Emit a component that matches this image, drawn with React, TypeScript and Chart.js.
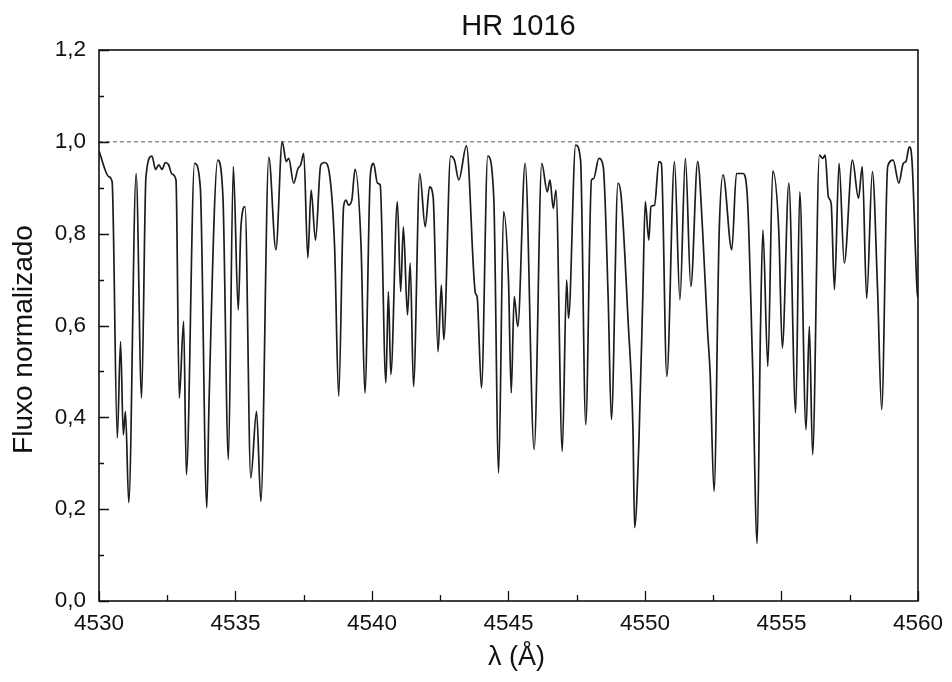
import React, { useEffect, useRef } from "react";
import { Chart, registerables } from "chart.js";

Chart.register(...registerables);

// Wavelength (Å) of traced spectrum points
const wavelengths = [
  4530.00, 4530.36, 4530.48, 4530.67, 4530.79, 4530.89, 4530.97, 4531.09, 4531.36, 4531.56,
  4531.72, 4531.94, 4532.07, 4532.19, 4532.31, 4532.43, 4532.55, 4532.67, 4532.82, 4532.94,
  4533.10, 4533.20, 4533.50, 4533.71, 4533.95, 4534.03, 4534.35, 4534.54, 4534.74, 4534.92,
  4535.10, 4535.20, 4535.35, 4535.56, 4535.77, 4535.93, 4536.22, 4536.48, 4536.71, 4536.86,
  4536.95, 4537.13, 4537.29, 4537.39, 4537.50, 4537.65, 4537.77, 4537.93, 4538.12, 4538.26,
  4538.44, 4538.63, 4538.78, 4538.96, 4539.05, 4539.14, 4539.26, 4539.38, 4539.60, 4539.74,
  4539.94, 4540.06, 4540.20, 4540.30, 4540.51, 4540.60, 4540.69, 4540.93, 4541.05, 4541.15,
  4541.30, 4541.40, 4541.52, 4541.75, 4541.95, 4542.11, 4542.24, 4542.42, 4542.54, 4542.63,
  4542.88, 4543.02, 4543.18, 4543.46, 4543.79, 4543.85, 4544.01, 4544.24, 4544.46, 4544.64,
  4544.82, 4545.00, 4545.10, 4545.21, 4545.34, 4545.61, 4545.94, 4546.22, 4546.42, 4546.52,
  4546.64, 4546.74, 4546.97, 4547.13, 4547.20, 4547.46, 4547.64, 4547.83, 4548.04, 4548.12,
  4548.31, 4548.47, 4548.65, 4548.77, 4549.01, 4549.13, 4549.38, 4549.56, 4549.62, 4549.78,
  4549.92, 4550.01, 4550.14, 4550.22, 4550.35, 4550.51, 4550.60, 4550.80, 4551.08, 4551.28,
  4551.48, 4551.68, 4551.93, 4552.11, 4552.29, 4552.39, 4552.53, 4552.72, 4552.86, 4553.18,
  4553.35, 4553.59, 4553.75, 4553.94, 4554.11, 4554.23, 4554.32, 4554.50, 4554.68, 4554.90,
  4555.03, 4555.27, 4555.52, 4555.67, 4555.90, 4556.02, 4556.14, 4556.39, 4556.51, 4556.60,
  4556.72, 4556.82, 4556.94, 4557.11, 4557.30, 4557.60, 4557.82, 4557.96, 4558.12, 4558.33,
  4558.52, 4558.67, 4558.89, 4559.09, 4559.30, 4559.46, 4559.56, 4559.68, 4559.78, 4559.97,
  4560.00,
];

// Normalized flux at each wavelength
const flux = [
  0.98, 0.924, 0.913, 0.355, 0.565, 0.362, 0.413, 0.214, 0.931, 0.442,
  0.924, 0.969, 0.94, 0.95, 0.94, 0.955, 0.95, 0.93, 0.917, 0.442,
  0.609, 0.275, 0.953, 0.902, 0.203, 0.431, 0.96, 0.88, 0.308, 0.946,
  0.634, 0.815, 0.859, 0.268, 0.413, 0.217, 0.967, 0.765, 1.0, 0.957,
  0.964, 0.91, 0.942, 0.95, 0.975, 0.747, 0.895, 0.786, 0.949, 0.955,
  0.931, 0.772, 0.446, 0.859, 0.873, 0.862, 0.873, 0.94, 0.772, 0.453,
  0.928, 0.953, 0.91, 0.906, 0.475, 0.674, 0.493, 0.87, 0.674, 0.815,
  0.623, 0.736, 0.467, 0.931, 0.815, 0.902, 0.88, 0.543, 0.688, 0.569,
  0.969, 0.96, 0.917, 0.991, 0.67, 0.663, 0.464, 0.969, 0.88, 0.279,
  0.848, 0.699, 0.453, 0.663, 0.598, 0.953, 0.33, 0.953, 0.891, 0.917,
  0.855, 0.895, 0.326, 0.699, 0.616, 0.993, 0.96, 0.384, 0.917, 0.92,
  0.964, 0.946, 0.663, 0.395, 0.91, 0.88, 0.612, 0.373, 0.16, 0.352,
  0.663, 0.87, 0.786, 0.859, 0.862, 0.957, 0.953, 0.489, 0.957, 0.656,
  0.964, 0.685, 0.957, 0.808, 0.591, 0.493, 0.239, 0.808, 0.928, 0.765,
  0.931, 0.931, 0.88, 0.518, 0.125, 0.591, 0.808, 0.511, 0.937, 0.808,
  0.551, 0.91, 0.41, 0.891, 0.373, 0.598, 0.319, 0.971, 0.964, 0.971,
  0.88, 0.866, 0.678, 0.953, 0.736, 0.96, 0.877, 0.946, 0.659, 0.935,
  0.678, 0.417, 0.946, 0.96, 0.91, 0.953, 0.957, 0.989, 0.96, 0.674,
  0.66,
];

// Continuum reference (dotted line)
const continuumX = [4530, 4560];
const continuumY = [1.0, 1.0];

// Axis ticks
const xMajorTicks = [4530, 4535, 4540, 4545, 4550, 4555, 4560];
const xMinorTicks = [4532.5, 4537.5, 4542.5, 4547.5, 4552.5, 4557.5];
const yMajorTicks = [0, 0.2, 0.4, 0.6, 0.8, 1.0, 1.2];
const yMinorTicks = [0.1, 0.3, 0.5, 0.7, 0.9, 1.1];

const TITLE = "HR 1016";
const X_TITLE = "λ (Å)";
const Y_TITLE = "Fluxo normalizado";

const FONT = "'Liberation Sans', Arial, Helvetica, sans-serif";
const INK = "#111";

export default function App() {
  const ref = useRef<HTMLCanvasElement>(null);

  useEffect(() => {
    document.body.style.margin = "0";
    const canvas = ref.current;
    if (!canvas) return;

    const framePlugin = {
      id: "frame",
      afterDraw(chart: any) {
        const { ctx, chartArea: a, scales } = chart;
        const xs = scales.x;
        const ys = scales.y;
        ctx.save();
        ctx.strokeStyle = INK;
        ctx.lineWidth = 1.6;
        ctx.strokeRect(a.left, a.top, a.right - a.left, a.bottom - a.top);
        ctx.lineWidth = 1.3;
        ctx.beginPath();
        const tickX = (v: number, len: number) => {
          const p = Math.round(xs.getPixelForValue(v)) + 0.5;
          ctx.moveTo(p, a.bottom);
          ctx.lineTo(p, a.bottom - len);
        };
        const tickY = (v: number, len: number) => {
          const p = Math.round(ys.getPixelForValue(v)) + 0.5;
          ctx.moveTo(a.left, p);
          ctx.lineTo(a.left + len, p);
        };
        xMajorTicks.forEach((v) => tickX(v, 10));
        xMinorTicks.forEach((v) => tickX(v, 6));
        yMajorTicks.forEach((v) => tickY(v, 10));
        yMinorTicks.forEach((v) => tickY(v, 5));
        ctx.stroke();

        ctx.fillStyle = INK;
        ctx.textAlign = "center";
        ctx.textBaseline = "middle";
        const cx = (a.left + a.right) / 2;
        ctx.font = `29px ${FONT}`;
        ctx.fillText(TITLE, cx + 10, 27);
        ctx.font = `27px ${FONT}`;
        ctx.fillText(X_TITLE, cx + 8, 658);
        ctx.font = `28px ${FONT}`;
        ctx.translate(24, (a.top + a.bottom) / 2 + 14);
        ctx.rotate(-Math.PI / 2);
        ctx.fillText(Y_TITLE, 0, 0);
        ctx.restore();
      },
    };

    const chart = new Chart(canvas, {
      type: "line",
      data: {
        datasets: [
          {
            label: "HR 1016",
            data: wavelengths.map((w, i) => ({ x: w, y: flux[i] })),
            borderColor: "#1c1c1c",
            borderWidth: 1.7,
            pointRadius: 0,
            fill: false,
            cubicInterpolationMode: "monotone",
            order: 0,
          },
          {
            label: "continuum",
            data: continuumX.map((w, i) => ({ x: w, y: continuumY[i] })),
            borderColor: "#555",
            borderWidth: 1,
            borderDash: [4, 3],
            pointRadius: 0,
            fill: false,
            order: 1,
          },
        ],
      },
      options: {
        responsive: false,
        animation: false,
        devicePixelRatio: 1,
        layout: { padding: { top: 50, right: 29, left: 0, bottom: 0 } },
        plugins: {
          legend: { display: false },
          tooltip: { enabled: false },
          title: { display: false },
        },
        scales: {
          x: {
            type: "linear",
            min: 4530,
            max: 4560,
            grid: { display: false, drawTicks: false },
            border: { display: false },
            afterBuildTicks: (s: any) => {
              s.ticks = xMajorTicks.map((v) => ({ value: v }));
            },
            afterFit: (s: any) => {
              s.height = 81;
            },
            ticks: {
              padding: 9,
              color: INK,
              font: { family: FONT, size: 22.5 },
              maxRotation: 0,
              autoSkip: false,
              callback: (v: any) => String(v),
            },
          },
          y: {
            type: "linear",
            min: 0,
            max: 1.2,
            grid: { display: false, drawTicks: false },
            border: { display: false },
            afterBuildTicks: (s: any) => {
              s.ticks = yMajorTicks.map((v) => ({ value: v }));
            },
            afterFit: (s: any) => {
              s.width = 99;
            },
            ticks: {
              padding: 13,
              color: INK,
              font: { family: FONT, size: 22.5 },
              callback: (v: any) => Number(v).toFixed(1).replace(".", ","),
            },
          },
        },
      },
      plugins: [framePlugin],
    });

    return () => chart.destroy();
  }, []);

  return (
    <div style={{ width: 952, height: 682, background: "#fff" }}>
      <canvas ref={ref} width={952} height={682} style={{ display: "block" }} />
    </div>
  );
}
